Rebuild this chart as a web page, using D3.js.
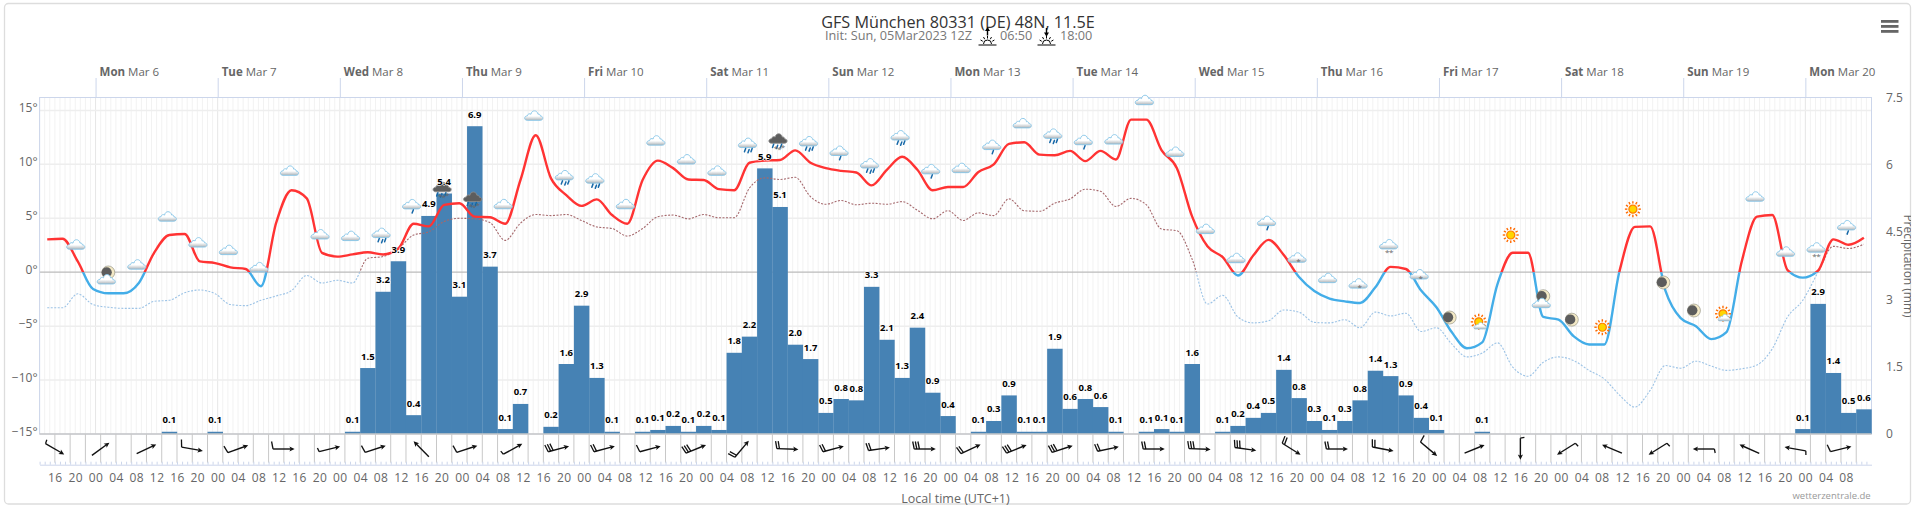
<!DOCTYPE html>
<html>
<head>
<meta charset="utf-8">
<script src="https://cdn.jsdelivr.net/npm/d3@7"></script>
<style>
html, body { margin: 0; padding: 0; background: #fff; overflow: hidden; }
text { font-family: "Open Sans", sans-serif; }
</style>
</head>
<body>
<svg id="chart" width="1914" height="509"></svg>
<script>
// 3 hourly precipitation in mm, first bar starts at 13:00 on Mar 5
const precip = [
  0,0,0,0,0,0,0,0,.05,0,
  0,.05,0,0,0,0,0,0,0,0,
  .05,1.47,3.17,3.85,.42,4.86,5.36,3.06,6.86,3.73,
  .11,.67,0,.16,1.56,2.86,1.25,.05,0,.05,
  .09,.18,.05,.18,.09,1.81,2.17,5.92,5.06,1.99,
  1.67,.47,.78,.75,3.28,2.1,1.25,2.37,.92,.4,
  0,.05,.29,.86,.05,.05,1.9,.56,.78,.6,
  .05,0,.05,.11,.05,1.56,0,.05,.18,.36,
  .47,1.43,.8,.29,.09,.29,.75,1.41,1.29,.86,
  .36,.09,0,0,.05,0,0,0,0,0,
  0,0,0,0,0,0,0,0,0,0,
  0,0,0,0,0,.11,2.9,1.36,.47,.55
];

// temperature at 2m
const temperature = [
  3.05,3.1,1.0,-1.55,-1.95,-1.95,-1.0,1.8,3.45,3.55,
  1.0,.85,.45,.3,-1.3,4.6,7.6,6.85,1.8,1.45,
  1.65,1.85,1.65,2.2,4.5,4.25,6.25,6.4,5.15,5.1,
  4.5,8.55,12.7,8.7,7.15,6.15,6.75,5.3,4.5,8.55,
  10.35,9.65,8.6,8.55,7.7,7.6,10.15,10.35,10.4,11.3,
  10.15,9.65,9.4,9.25,8.05,9.5,10.7,9.5,7.6,7.9,
  7.9,9.3,10,11.9,12.05,10.9,10.85,11.25,10.3,11.25,
  10.45,14.15,14.15,11.3,9.65,5.15,2.4,1.4,-.3,1.55,
  3.0,1.6,-.45,-1.75,-2.45,-2.7,-2.85,-1.4,.5,.3,
  -1.7,-3.25,-5.55,-7.05,-6.5,-1.1,1.8,1.8,-4.15,-4.4,
  -5.95,-6.7,-6.7,.15,4.2,4.25,-1.7,-4.25,-5.0,-6.2,
  -5.55,1.0,5.15,5.3,.2,-.5,.15,3.05,2.55,3.2
];

// dew point
const dewpoint = [
  -3.3,-3.3,-2.0,-3.0,-3.25,-3.35,-3.35,-2.7,-2.6,-1.9,
  -1.65,-2.0,-3.0,-3.1,-2.6,-2.2,-1.7,-.3,-1.0,-.75,
  -1.0,1.3,1.45,2.2,3.45,3.75,4.7,5.0,4.95,4.6,
  2.95,4.55,5.35,5.25,5.35,4.8,4.2,4.05,3.35,4.05,
  5.15,5.3,4.95,5.35,5.05,5.05,7.8,8.75,8.6,8.8,
  7.0,6.3,6.65,6.25,6.4,6.3,6.55,5.75,4.95,5.7,
  4.8,5.5,5.25,6.8,5.7,5.65,6.4,6.8,7.7,7.5,
  6.1,6.85,6.25,4.0,3.85,1.2,-2.95,-2.15,-4.15,-4.7,
  -4.5,-3.5,-3.7,-4.65,-4.7,-4.4,-5.15,-3.7,-4.05,-3.8,
  -5.5,-5.15,-6.65,-7.85,-7.5,-6.55,-8.8,-9.65,-8.35,-7.85,
  -8.2,-9.1,-9.9,-11.4,-12.5,-10.95,-8.65,-8.9,-8.25,-8.7,
  -9.1,-8.95,-8.6,-7.1,-4.15,-2.6,0,2.4,2.2,2.6
];

// weather symbol on every second point from the third on, and the temperature level it sits at
const iconTypes = [
  "cloud","moonCloud","cloud","cloud","cloud","cloud","cloud","cloud","cloud","cloud",
  "rain","drop","darkRain","darkRain","cloud","cloud","rain","rain","cloud","cloud",
  "cloud","cloud","rain","darkRain","rain","drop","rain","rain","drop","cloud",
  "drop","cloud","rain","drop","cloud","cloud","cloud","cloud","cloud","drop",
  "snowLight","cloud","snowLight","snow","snowLight","moon","sunCloud","sun","moonCloud","moon",
  "sun","sun","moon","moon","sunCloud","cloud","cloud","snow","drop"
];
const iconLevels = [
  2.55,-.3,.7,5.15,2.75,2.05,.45,9.4,3.5,3.35,
  3.35,6.15,7.6,6.7,6.3,14.5,8.7,8.4,6.3,12.2,
  10.45,9.4,11.7,12.1,11.85,11.1,9.8,12.4,9.4,9.65,
  11.65,13.8,12.55,12.1,12.3,15.95,11.15,4.0,1.3,4.6,
  1.25,-.55,-1.15,2.3,-.3,-4.2,-4.65,3.45,-2.5,-4.4,
  -5.1,5.85,-.95,-3.55,-3.9,7.0,1.9,2.0,4.2
];

// wind arrows every 9 hours: heading on screen in degrees, number of barbs
const windDir = [
  30,-36,-25,10,-20,0,-14,-18,-135,-18,
  -29,-15,-15,-15,-22,-50,2,-15,-8,0,
  -25,-22,-18,-12,0,2,8,32,0,11,
  40,-22,90,148,-157,148,180,-156,-170,-14
];
const windBarbs = [
  .5,0,0,1,1,1,.5,1,0,1,
  .5,3,2,1,3,2,2,2,2,3,
  2,3,3,2,2,3,3,2,2,2,
  1,0,.5,.5,0,.5,.5,0,.5,1
];

const dayNames = ["Mon","Tue","Wed","Thu","Fri","Sat","Sun","Mon","Tue","Wed","Thu","Fri","Sat","Sun","Mon"];
const dayLabels = ["Mar 6","Mar 7","Mar 8","Mar 9","Mar 10","Mar 11","Mar 12","Mar 13","Mar 14","Mar 15","Mar 16","Mar 17","Mar 18","Mar 19","Mar 20"];
const tempTicks = [-15,-10,-5,0,5,10,15];
const precipTicks = [0,1.5,3,4.5,6,7.5];

const svg = d3.select("#chart");
const left = 39.6, right = 1871.5, top_ = 97.5, bottom = 434, stripBottom = 464.7;

// time is kept as UTC so the page does not depend on the browser's timezone
const start = new Date(Date.UTC(2023, 2, 5, 13));
const end = new Date(Date.UTC(2023, 2, 20, 13));
const xTime = d3.scaleUtc().domain([start, end]).range([left, right]);
const xBand = d3.scaleBand().domain(d3.range(precip.length)).range([left, right]);
const yTemp = d3.scaleLinear().domain([-15, 16.2]).range([bottom, top_]);
const yPrecip = d3.scaleLinear().domain([0, 7.5]).range([bottom, top_]);
const xPoint = k => xBand(k) + xBand.bandwidth() / 2;

const hours = d3.utcHour.range(start, end);
const threeHours = d3.range(1, 120).map(k => xBand(k));
const days = d3.utcDay.range(d3.utcDay.ceil(start), end);
const fourHours = hours.filter(d => d.getUTCHours() % 4 === 0 && d < new Date(Date.UTC(2023, 2, 20, 10)));

// frame
svg.append("rect").attr("x", 4.5).attr("y", 3.5).attr("width", 1906).attr("height", 500.5)
  .attr("rx", 4).attr("fill", "#fff").attr("stroke", "#ddd").attr("stroke-width", 1.3);

// grid
svg.append("g").selectAll("line").data(hours).join("line")
  .attr("x1", d => xTime(d)).attr("x2", d => xTime(d)).attr("y1", top_).attr("y2", bottom)
  .attr("stroke", d => d.getUTCHours() === 0 ? "#e6e6e6" : "#f2f2f2").attr("stroke-width", 1);
svg.append("g").selectAll("line").data(tempTicks.filter(d => d !== 0 && d !== -15)).join("line")
  .attr("x1", left).attr("x2", right).attr("y1", d => yTemp(d)).attr("y2", d => yTemp(d))
  .attr("stroke", "#eeeeee").attr("stroke-width", 1.5);
svg.append("line").attr("x1", left).attr("x2", right).attr("y1", yTemp(0)).attr("y2", yTemp(0))
  .attr("stroke", "#bbb").attr("stroke-width", 1.3);

// plot border
svg.append("rect").attr("x", left).attr("y", top_).attr("width", right - left).attr("height", bottom - top_)
  .attr("fill", "none").attr("stroke", "#ccd6eb");

// precipitation bars
svg.append("g").selectAll("rect").data(d3.range(precip.length).filter(k => precip[k] > 0)).join("rect")
  .attr("x", k => xBand(k)).attr("width", xBand.bandwidth() + .2)
  .attr("y", k => yPrecip(precip[k])).attr("height", k => bottom - yPrecip(precip[k]))
  .attr("fill", "#4682b4");

// temp lines, red above freezing and blue below
const defs = svg.append("defs");
defs.append("clipPath").attr("id", "aboveZero").append("rect")
  .attr("x", left).attr("y", top_).attr("width", right - left).attr("height", yTemp(0) - top_);
defs.append("clipPath").attr("id", "belowZero").append("rect")
  .attr("x", left).attr("y", yTemp(0)).attr("width", right - left).attr("height", bottom - yTemp(0));
const cloudFill = defs.append("linearGradient").attr("id", "cloudFill").attr("x1", 0).attr("x2", 0).attr("y1", 0).attr("y2", 1);
cloudFill.append("stop").attr("offset", "55%").attr("stop-color", "#fff");
cloudFill.append("stop").attr("offset", "100%").attr("stop-color", "#aeb4b8");

const lineOf = values => d3.line()
  .x((d, i) => xPoint(i)).y(d => yTemp(d)).curve(d3.curveMonotoneX)(values);

svg.append("path").attr("d", lineOf(dewpoint)).attr("clip-path", "url(#aboveZero)")
  .attr("fill", "none").attr("stroke", "#a5686c").attr("stroke-width", 1.1).attr("stroke-dasharray", "2,1.5");
svg.append("path").attr("d", lineOf(dewpoint)).attr("clip-path", "url(#belowZero)")
  .attr("fill", "none").attr("stroke", "#9cc3e6").attr("stroke-width", 1.1).attr("stroke-dasharray", "2,1.5");
svg.append("path").attr("d", lineOf(temperature)).attr("clip-path", "url(#aboveZero)")
  .attr("fill", "none").attr("stroke", "#ff3333").attr("stroke-width", 2.4);
svg.append("path").attr("d", lineOf(temperature)).attr("clip-path", "url(#belowZero)")
  .attr("fill", "none").attr("stroke", "#43ade8").attr("stroke-width", 2.4);

// weather symbols
const cloudPath = "M-6.5,4.5 C-10,4.5 -10,0 -6.3,0 C-6.3,-2 -3.8,-2.6 -2.8,-1.6 C-2.2,-6 3.4,-6.2 4.3,-1.6 C5.4,-2.2 6.8,-1 6.6,.2 C10,.2 9.8,4.5 6.5,4.5 Z";
function addCloud(g, dark, dy, scale) {
  g.append("path").attr("d", cloudPath)
    .attr("transform", `translate(0,${dy}) scale(${scale})`)
    .attr("fill", dark ? "#5d5d5d" : "url(#cloudFill)")
    .attr("stroke", dark ? "#8a8a8a" : "#86c5e8").attr("stroke-width", .9);
}
function addDrops(g, pts) {
  pts.forEach(p => {
    g.append("line").attr("x1", p[0] + .7).attr("x2", p[0] - .5).attr("y1", p[1]).attr("y2", p[1] + 3.2)
      .attr("stroke", "#1668a8").attr("stroke-width", 1.5).attr("stroke-linecap", "round");
  });
}
function addFlakes(g, pts) {
  pts.forEach(p => {
    g.append("text").attr("x", p[0]).attr("y", p[1] + 3.5).attr("text-anchor", "middle")
      .attr("font-size", 8).attr("fill", "#666").text("*");
  });
}
function addMoon(g, x, y) {
  g.append("circle").attr("cx", x).attr("cy", y).attr("r", 6.5).attr("fill", "#f3e9c6").attr("stroke", "#8a8a7a").attr("stroke-width", .6);
  g.append("circle").attr("cx", x - 1.6).attr("cy", y - .2).attr("r", 5.1).attr("fill", "#5c5c5c");
}
function addSun(g, x, y, r) {
  d3.range(12).forEach(i => {
    const a = i * Math.PI / 6;
    g.append("line").attr("x1", x + Math.cos(a) * r * 1.4).attr("y1", y + Math.sin(a) * r * 1.4)
      .attr("x2", x + Math.cos(a) * r * 2).attr("y2", y + Math.sin(a) * r * 2)
      .attr("stroke", "#ff6a00").attr("stroke-width", 1.4);
  });
  g.append("circle").attr("cx", x).attr("cy", y).attr("r", r).attr("fill", "#ffd500").attr("stroke", "#ff7f00").attr("stroke-width", 1.2);
}
function drawIcon(g, type) {
  if (type === "cloud") addCloud(g, false, 0, 1);
  if (type === "drop") { addCloud(g, false, -1.5, 1); addDrops(g, [[1, 4]]); }
  if (type === "rain") { addCloud(g, false, -3, 1); addDrops(g, [[-2.5, 2.5], [1, 3.5], [4, 2.5]]); }
  if (type === "darkRain") {
    addCloud(g, true, -3, 1);
    addDrops(g, [[-5, 2.5], [-1, 3.5], [3, 2.5]]);
    addFlakes(g, [[-2, 5.5], [1.5, 6.5], [5, 4.5]]);
  }
  if (type === "snowLight") { addCloud(g, false, -1, 1); addFlakes(g, [[1.5, 2]]); }
  if (type === "snow") { addCloud(g, false, -3, 1); addFlakes(g, [[-1.5, 4.5], [2.5, 4.5]]); }
  if (type === "moon") addMoon(g, 0, 0);
  if (type === "moonCloud") { addMoon(g, 2, -3); addCloud(g, false, 4, 1); }
  if (type === "sun") addSun(g, 0, 0, 4);
  if (type === "sunCloud") { addSun(g, -1.5, -.5, 4); addCloud(g, false, 3.5, .7); }
}
svg.append("g").selectAll("g").data(iconLevels).join("g")
  .attr("transform", (d, i) => `translate(${xPoint((i + 1) * 2) - 2},${yTemp(d)})`)
  .each(function(d, i) { drawIcon(d3.select(this), iconTypes[i]); });

// precipitation labels
svg.append("g").selectAll("text").data(d3.range(precip.length).filter(k => precip[k] > 0)).join("text")
  .attr("x", k => xPoint(k)).attr("y", k => yPrecip(precip[k]) - 8.5)
  .attr("text-anchor", "middle").attr("font-size", 9.5).attr("font-weight", 700).attr("fill", "#000")
  .attr("stroke", "#fff").attr("stroke-width", 1.2).attr("paint-order", "stroke")
  .text(k => d3.format(".1f")(precip[k]));

// wind strip
svg.append("line").attr("x1", left).attr("x2", right).attr("y1", bottom).attr("y2", bottom)
  .attr("stroke", "#c8c8c8").attr("stroke-width", 1.3);
svg.append("g").selectAll("line").data(threeHours).join("line")
  .attr("x1", d => d).attr("x2", d => d).attr("y1", bottom).attr("y2", stripBottom - 2)
  .attr("stroke", "#c8c8c8");

const barb = svg.append("g").selectAll("g").data(windDir).join("g")
  .attr("transform", (d, i) => `translate(${xBand(1 + i * 3)},449) rotate(${d})`);
barb.append("line").attr("x1", -10.8).attr("x2", 8).attr("y1", 0).attr("y2", 0)
  .attr("stroke", "#111").attr("stroke-width", 1.4);
barb.append("path").attr("d", "M10.8,0 L5.5,-2.6 L6.8,0 L5.5,2.6 Z").attr("fill", "#111");
barb.each(function(d, i) {
  const n = windBarbs[i];
  const g = d3.select(this);
  d3.range(Math.ceil(n)).forEach(j => {
    const size = j === 0 && n === .5 ? 4 : 7.5;
    g.append("line").attr("x1", -10.8 + j * 2.6).attr("y1", 0)
      .attr("x2", -10.8 + j * 2.6 - size * .2).attr("y2", -size)
      .attr("stroke", "#111").attr("stroke-width", 1.3);
  });
});

// axes
const axisText = sel => sel.selectAll("text").attr("font-size", 12).attr("fill", "#666");

const tempAxis = svg.append("g").attr("transform", `translate(${left},0)`)
  .call(d3.axisLeft(yTemp).tickValues(tempTicks).tickSize(0).tickPadding(2)
    .tickFormat(d => (d < 0 ? "\u2212" + (-d) : d) + "\u00b0"));
tempAxis.select(".domain").remove();
tempAxis.call(axisText);
tempAxis.selectAll("text").attr("dy", "0.1em");

const precipAxis = svg.append("g").attr("transform", `translate(${right},0)`)
  .call(d3.axisRight(yPrecip).tickValues(precipTicks).tickSize(0).tickPadding(14.5).tickFormat(d3.format("~g")));
precipAxis.select(".domain").remove();
precipAxis.call(axisText);

const timeAxis = svg.append("g").attr("transform", `translate(0,${stripBottom})`)
  .call(d3.axisBottom(xTime).tickValues(fourHours).tickSize(0).tickPadding(9).tickFormat(d3.utcFormat("%H")));
timeAxis.select(".domain").attr("stroke", "#ccd6eb");
timeAxis.call(axisText);
timeAxis.selectAll("text").attr("letter-spacing", ".4px");

const hourAxis = svg.append("g").attr("transform", `translate(0,${stripBottom})`)
  .call(d3.axisTop(xTime).tickValues(hours).tickSize(3).tickFormat(""));
hourAxis.select(".domain").remove();
hourAxis.selectAll("line").attr("stroke", "#ccd6eb");

const dayAxis = svg.append("g").attr("transform", `translate(0,${top_})`)
  .call(d3.axisTop(xTime).tickValues(days).tickSize(19.5).tickFormat(""));
dayAxis.select(".domain").remove();
dayAxis.selectAll("line").attr("stroke", "#ccd6eb");

const dayText = svg.append("g").selectAll("text").data(days).join("text")
  .attr("x", d => xTime(d) + 4).attr("y", 76).attr("font-size", 11.5).attr("fill", "#666");
dayText.append("tspan").attr("font-weight", 700).text((d, i) => dayNames[i]);
dayText.append("tspan").text((d, i) => " " + dayLabels[i]);

// titles
svg.append("text").attr("x", 958).attr("y", 27.5).attr("text-anchor", "middle")
  .attr("font-size", 16.2).attr("fill", "#333").text("GFS M\u00fcnchen 80331 (DE) 48N, 11.5E");
svg.append("text").attr("x", 825).attr("y", 40).attr("font-size", 12.7).attr("fill", "#777")
  .text("Init: Sun, 05Mar2023 12Z");
svg.append("text").attr("x", 1000).attr("y", 40).attr("font-size", 12.7).attr("fill", "#777").text("06:50");
svg.append("text").attr("x", 1060).attr("y", 40).attr("font-size", 12.7).attr("fill", "#777").text("18:00");

// sunrise and sunset signs in the subtitle
function sunSign(x, up) {
  const g = svg.append("g").attr("transform", `translate(${x},45)`).attr("stroke", "#000").attr("stroke-width", 1).attr("fill", "none");
  g.append("line").attr("x1", -9).attr("x2", 9).attr("y1", 0).attr("y2", 0);
  g.append("path").attr("d", "M-4,-1 A4,4 0 0 1 4,-1");
  [-150, -120, -90, -60, -30].forEach(a => {
    const r = a * Math.PI / 180;
    g.append("line").attr("x1", Math.cos(r) * 5.5).attr("y1", Math.sin(r) * 5.5 - 1)
      .attr("x2", Math.cos(r) * 8).attr("y2", Math.sin(r) * 8 - 1);
  });
  g.append("line").attr("x1", 0).attr("x2", 0).attr("y1", -17).attr("y2", -9.5).attr("stroke-width", 1.4);
  g.append("path").attr("fill", "#000").attr("stroke", "none")
    .attr("d", up ? "M0,-18 L-2.5,-14 L2.5,-14 Z" : "M0,-8.5 L-2.5,-12.5 L2.5,-12.5 Z");
}
sunSign(987.5, true);
sunSign(1046.5, false);

// menu button
svg.append("g").selectAll("rect").data([0, 1, 2]).join("rect")
  .attr("x", 1881).attr("y", d => 20 + d * 5).attr("width", 17.5).attr("height", 2.8).attr("fill", "#666");

svg.append("text").attr("x", 955.5).attr("y", 503).attr("text-anchor", "middle")
  .attr("font-size", 12.5).attr("fill", "#666").text("Local time (UTC+1)");
svg.append("text").attr("x", 1870.7).attr("y", 499).attr("text-anchor", "end")
  .attr("font-size", 9.5).attr("fill", "#999").text("wetterzentrale.de");

// axis title runs off the right edge, same as the original
defs.append("clipPath").attr("id", "edge").append("rect").attr("x", 0).attr("y", 0).attr("width", 1911).attr("height", 509);
svg.append("g").attr("clip-path", "url(#edge)").append("text")
  .attr("transform", "translate(1904,266) rotate(90)").attr("text-anchor", "middle")
  .attr("font-size", 12).attr("fill", "#666").text("Precipitation (mm)");
</script>
</body>
</html>
